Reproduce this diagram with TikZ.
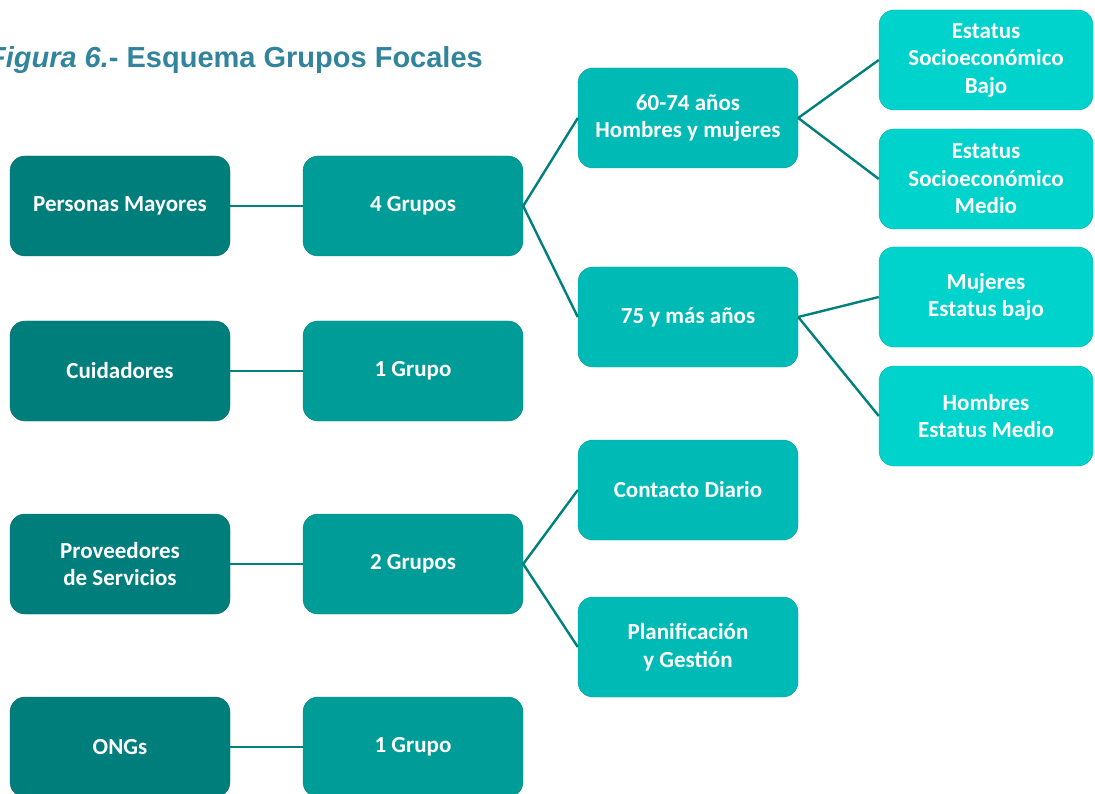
\documentclass[tikz,border=0pt]{standalone}
\usepackage{fontspec}
\setmainfont{Carlito}
\newfontfamily\titulofont{Liberation Sans}
\usetikzlibrary{positioning}
\definecolor{nivelA}{HTML}{007E7C}
\definecolor{nivelB}{HTML}{009C97}
\definecolor{nivelC}{HTML}{00BBB5}
\definecolor{nivelD}{HTML}{00D3CC}
\definecolor{linea}{HTML}{00807C}
\definecolor{titulo}{HTML}{31849B}

\tikzset{
	caja/.style={rounded corners=15pt, minimum width=220pt, minimum height=100pt,
		inner sep=2pt, align=center, text=white,
		font=\bfseries\fontsize{23}{27.5}\selectfont},
	cajaA/.style={caja, fill=nivelA, draw=nivelA!85!black},
	cajaB/.style={caja, fill=nivelB, draw=nivelB!85!black},
	cajaC/.style={caja, fill=nivelC, draw=nivelC!85!black},
	cajaD/.style={caja, fill=nivelD, draw=nivelD!85!black, minimum width=214pt},
	rama/.style={draw=linea, line width=2.4pt}
}

\begin{document}
\begin{tikzpicture}[x=1pt, y=-1pt]
	\useasboundingbox (0,0) rectangle (1095,794);
	\node[anchor=base east, text=titulo, inner sep=0pt, font=\titulofont\bfseries\fontsize{29}{32}\selectfont]
		(titulo) at (483,68) {\textit{Figura 6.}- Esquema Grupos Focales};

	\node[cajaA] (mayores) at (120,206) {Personas Mayores};
	\node[cajaA] (cuidadores) at (120,371) {Cuidadores};
	\node[cajaA] (proveedores) at (120,564) {Proveedores\\de Servicios};
	\node[cajaA] (ongs) at (120,747) {ONGs};

	\node[cajaB] (g4) at (413,206) {4 Grupos};
	\node[cajaB] (g1a) at (413,371) {1 Grupo};
	\node[cajaB] (g2) at (413,564) {2 Grupos};
	\node[cajaB] (g1b) at (413,747) {1 Grupo};

	\node[cajaC] (edad1) at (688,118) {60-74 años\\Hombres y mujeres};
	\node[cajaC] (edad2) at (688,317) {75 y más años};
	\node[cajaC] (contacto) at (688,490) {Contacto Diario};
	\node[cajaC] (gestion) at (688,647) {Planificación\\y Gestión};

	\node[cajaD] (bajo) at (986,60) {Estatus\\Socioeconómico\\Bajo};
	\node[cajaD] (medio) at (986,179) {Estatus\\Socioeconómico\\Medio};
	\node[cajaD] (mujeres) at (986,297) {Mujeres\\Estatus bajo};
	\node[cajaD] (hombres) at (986,416) {Hombres\\Estatus Medio};

	\draw[rama] (mayores) -- (g4);
	\draw[rama] (cuidadores) -- (g1a);
	\draw[rama] (proveedores) -- (g2);
	\draw[rama] (ongs) -- (g1b);
	\draw[rama] (g4.east) -- (edad1.west);
	\draw[rama] (g4.east) -- (edad2.west);
	\draw[rama] (g2.east) -- (contacto.west);
	\draw[rama] (g2.east) -- (gestion.west);
	\draw[rama] (edad1.east) -- (bajo.west);
	\draw[rama] (edad1.east) -- (medio.west);
	\draw[rama] (edad2.east) -- (mujeres.west);
	\draw[rama] (edad2.east) -- (hombres.west);
\end{tikzpicture}
\end{document}
